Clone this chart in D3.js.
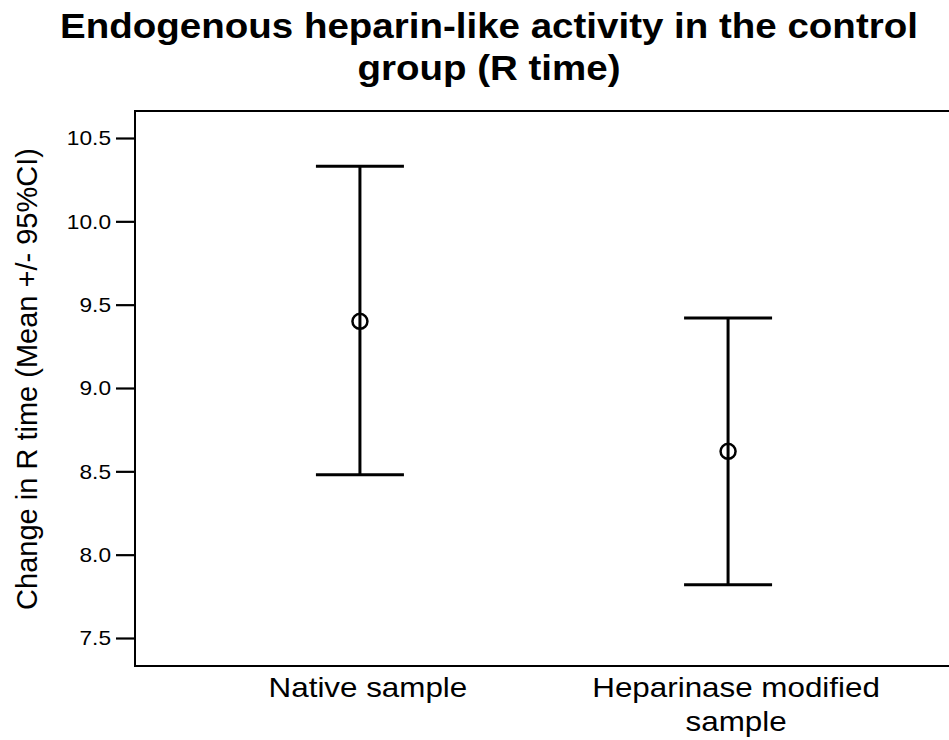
<!DOCTYPE html>
<html>
<head>
<meta charset="utf-8">
<script src="https://cdn.jsdelivr.net/npm/d3@7"></script>
<style>
  html, body { margin: 0; padding: 0; background: #fff; }
  svg { display: block; font-family: "Liberation Sans", Arial, sans-serif; }
</style>
</head>
<body>
<svg id="chart" width="949" height="740"></svg>
<script>
// ---- data ----
const titleLines = ["Endogenous heparin-like activity in the control", "group (R time)"];
const yAxisLabel = "Change in R time (Mean +/- 95%CI)";
const categories = ["Native sample", "Heparinase modified sample"];
const categoryLabelLines = [["Native sample"], ["Heparinase modified", "sample"]];
const means = [9.40, 8.62];
const lowerCI = [8.48, 7.82];
const upperCI = [10.33, 9.42];
const yTicks = [7.5, 8.0, 8.5, 9.0, 9.5, 10.0, 10.5];

// ---- layout ----
const svg = d3.select("#chart");
const plotLeft = 135, plotTop = 111, plotBottom = 666, plotRight = 949;

const y = d3.scaleLinear().domain([7.332, 10.662]).range([plotBottom, plotTop]);
const x = d3.scalePoint().domain(categories).range([plotLeft, 953]).padding(0.611);

// horizontally widen a text element (reference glyphs are slightly wider)
function widen(sel, ratio) {
  sel.each(function () {
    const w = this.getComputedTextLength();
    d3.select(this).attr("textLength", w * ratio).attr("lengthAdjust", "spacingAndGlyphs");
  });
}

// title
const titleSpans = svg.append("text")
  .attr("text-anchor", "middle")
  .attr("font-weight", "bold").attr("font-size", 35).attr("fill", "#000")
  .selectAll("tspan").data(titleLines).join("tspan")
  .attr("x", 489).attr("y", (d, i) => 38 + i * 42)
  .text(d => d);
widen(titleSpans, 1.1);

// y axis
const yAxis = svg.append("g")
  .attr("transform", `translate(${plotLeft},0)`)
  .call(d3.axisLeft(y).tickValues(yTicks).tickFormat(d3.format(".1f")).tickSize(19).tickPadding(5));
yAxis.select(".domain").remove();
yAxis.selectAll(".tick line").attr("stroke", "#000").attr("stroke-width", 2.2);
const tickTexts = yAxis.selectAll(".tick text").attr("font-size", 21).attr("fill", "#000")
  .attr("font-family", "Liberation Sans, Arial, sans-serif");
widen(tickTexts, 1.08);

// frame (left, top, bottom)
svg.append("path")
  .attr("d", `M${plotRight},${plotTop}H${plotLeft}V${plotBottom}H${plotRight}`)
  .attr("fill", "none").attr("stroke", "#000").attr("stroke-width", 2);

// y label
svg.append("text")
  .attr("transform", `translate(37,379) rotate(-90)`)
  .attr("text-anchor", "middle").attr("font-size", 29).attr("fill", "#000")
  .text(yAxisLabel);

// x category labels
const xl = svg.append("g").selectAll("text").data(categories).join("text")
  .attr("text-anchor", "middle").attr("font-size", 28).attr("fill", "#000");
const xSpans = xl.selectAll("tspan").data((d, i) => categoryLabelLines[i].map(t => ({t, c: d})))
  .join("tspan")
  .attr("x", d => x(d.c) + 8).attr("y", (d, j) => 697 + j * 34)
  .text(d => d.t);
widen(xSpans, 1.12);

// error bars
const data = categories.map((c, i) => ({c, m: means[i], lo: lowerCI[i], hi: upperCI[i]}));
const capHalf = 44;
const g = svg.append("g").attr("stroke", "#000").attr("stroke-width", 3).attr("fill", "none");
g.selectAll("line.v").data(data).join("line").attr("class", "v")
  .attr("x1", d => x(d.c)).attr("x2", d => x(d.c))
  .attr("y1", d => y(d.hi)).attr("y2", d => y(d.lo));
g.selectAll("line.hi").data(data).join("line").attr("class", "hi")
  .attr("x1", d => x(d.c) - capHalf).attr("x2", d => x(d.c) + capHalf)
  .attr("y1", d => y(d.hi)).attr("y2", d => y(d.hi));
g.selectAll("line.lo").data(data).join("line").attr("class", "lo")
  .attr("x1", d => x(d.c) - capHalf).attr("x2", d => x(d.c) + capHalf)
  .attr("y1", d => y(d.lo)).attr("y2", d => y(d.lo));
g.selectAll("circle").data(data).join("circle")
  .attr("cx", d => x(d.c)).attr("cy", d => y(d.m)).attr("r", 7.5)
  .attr("fill", "none").attr("stroke-width", 2.5);
</script>
</body>
</html>
